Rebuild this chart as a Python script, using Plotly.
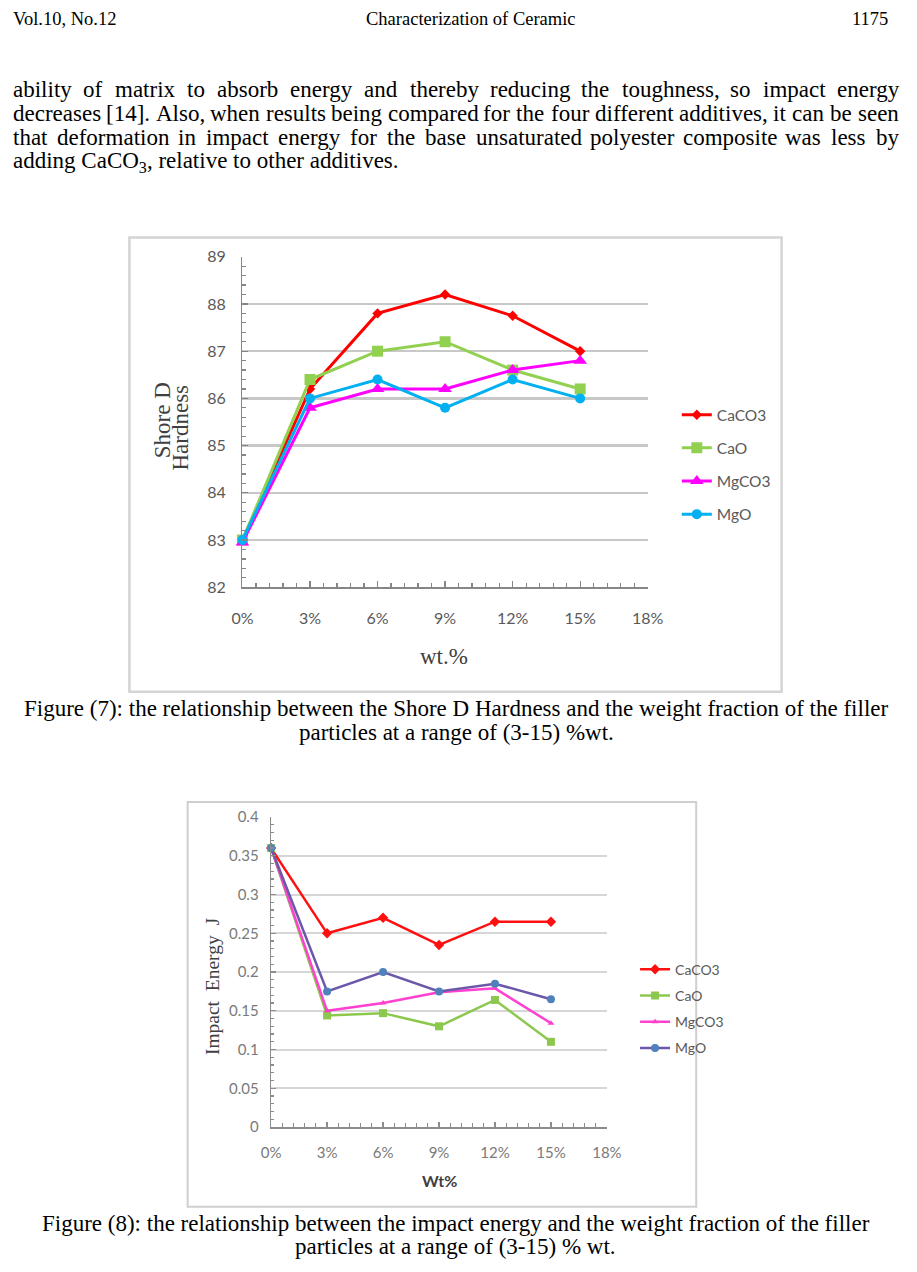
import plotly.graph_objects as go

W, H = 917, 1272

# ---------------- data ----------------
WT_PCT = [0, 3, 6, 9, 12, 15]
SERIES = ["CaCO3", "CaO", "MgCO3", "MgO"]

HARD_CACO3 = [83.0, 86.2, 87.8, 88.2, 87.75, 87.0]
HARD_CAO = [83.0, 86.4, 87.0, 87.2, 86.6, 86.2]
HARD_MGCO3 = [82.95, 85.8, 86.2, 86.2, 86.6, 86.8]
HARD_MGO = [83.0, 86.0, 86.4, 85.8, 86.4, 86.0]

IMP_CACO3 = [0.36, 0.25, 0.27, 0.235, 0.265, 0.265]
IMP_CAO = [0.36, 0.144, 0.147, 0.13, 0.164, 0.11]
IMP_MGCO3 = [0.36, 0.15, 0.16, 0.174, 0.179, 0.134]
IMP_MGO = [0.36, 0.175, 0.2, 0.175, 0.185, 0.165]

HARD_RANGE = [82, 89]
IMP_RANGE = [0, 0.4]
WT_RANGE = [0, 18]

HEADER_LEFT = "Vol.10, No.12"
HEADER_CENTER = "Characterization of Ceramic"
HEADER_RIGHT = "1175"
PARAGRAPH = [
    "ability of matrix to absorb energy and thereby reducing the toughness, so impact energy",
    "decreases [14]. Also, when results being compared for the four different additives, it can be seen",
    "that deformation in impact energy for the base unsaturated polyester composite was less by",
]
PARAGRAPH_LAST = "adding CaCO<sub>3</sub>, relative to other additives."
CAPTION7 = ["Figure (7): the relationship between the Shore D Hardness and the weight fraction of the filler",
            "particles at a range of (3-15) %wt."]
CAPTION8 = ["Figure (8): the relationship between the impact energy and the weight fraction of the filler",
            "particles at a range of (3-15) % wt."]

# ---------------- styling helpers ----------------
SERIF = "Liberation Serif, Times New Roman, serif"
SANS = "Lato, Carlito, Calibri, sans-serif"


def px(x):
    return x / W


def py(y):
    return 1 - y / H


# Times / Liberation Serif advance widths (1/1000 em)
TW = {' ': 250, '!': 333, '%': 833, '(': 333, ')': 333, ',': 250, '-': 333, '.': 250, ':': 278,
      '[': 333, ']': 333, 'A': 722, 'B': 667, 'C': 667, 'D': 722, 'E': 611, 'F': 556, 'G': 722,
      'H': 722, 'I': 333, 'J': 389, 'K': 722, 'L': 611, 'M': 889, 'N': 722, 'O': 722, 'P': 556,
      'Q': 722, 'R': 667, 'S': 556, 'T': 611, 'U': 722, 'V': 722, 'W': 944, 'X': 722, 'Y': 722,
      'Z': 611, 'a': 444, 'b': 500, 'c': 444, 'd': 500, 'e': 444, 'f': 333, 'g': 500, 'h': 500,
      'i': 278, 'j': 278, 'k': 500, 'l': 278, 'm': 778, 'n': 500, 'o': 500, 'p': 500, 'q': 500,
      'r': 333, 's': 389, 't': 278, 'u': 500, 'v': 500, 'w': 722, 'x': 500, 'y': 500, 'z': 444}


def text_w(s, size):
    return sum(TW.get(c, 500) for c in s) / 1000.0 * size


annotations = []


def add_text(x, y_base, text, size, family=SERIF, color="#000000", xanchor="left",
             angle=0, bold=False):
    yc = y_base - 0.30 * size if angle == 0 else y_base
    annotations.append(dict(
        x=px(x), y=py(yc), xref="paper", yref="paper", text=("<b>%s</b>" % text) if bold else text,
        showarrow=False, xanchor=xanchor, yanchor="middle", textangle=angle,
        borderpad=0, borderwidth=0,
        font=dict(family=family, size=size, color=color)))


def justify(line, x0, x1, y_base, size):
    words = line.split(" ")
    widths = [text_w(w, size) for w in words]
    gap = (x1 - x0 - sum(widths)) / (len(words) - 1)
    x = x0
    for w, ww in zip(words, widths):
        add_text(x, y_base, w, size)
        x += ww + gap


# ---------------- page text ----------------
BODY = 23
TEXT_L, TEXT_R = 2, 914
add_text(TEXT_L, 15, HEADER_LEFT, 18.5)
add_text(474, 15, HEADER_CENTER, 18.5, xanchor="center")
add_text(904, 15, HEADER_RIGHT, 18.5, xanchor="right")
for i, line in enumerate(PARAGRAPH):
    justify(line, TEXT_L, TEXT_R, 88 + 24.3 * i, BODY)
add_text(TEXT_L, 88 + 24.3 * 3, PARAGRAPH_LAST, BODY)

add_text(459, 716, CAPTION7[0], BODY, xanchor="center")
add_text(459, 740, CAPTION7[1], BODY, xanchor="center")
add_text(458, 1239, CAPTION8[0], BODY, xanchor="center")
add_text(458, 1262, CAPTION8[1], BODY, xanchor="center")

# axis titles
add_text(156, 416, "Shore D", 23, color="#404040", xanchor="center", angle=-90)
add_text(175, 424, "Hardness", 23, color="#404040", xanchor="center", angle=-90)
add_text(446, 663, "wt.%", 23, color="#404040", xanchor="center")
add_text(207, 991, "Impact\u00a0 Energy\u00a0 J", 19.5, color="#404040", xanchor="center", angle=-90)
add_text(442, 1193, "Wt%", 16, family=SANS, color="#404040", xanchor="center", bold=True)

# ---------------- traces ----------------
fig = go.Figure()

hard = [HARD_CACO3, HARD_CAO, HARD_MGCO3, HARD_MGO]
imp = [IMP_CACO3, IMP_CAO, IMP_MGCO3, IMP_MGO]

style1 = [
    dict(line="#ff0000", marker="#ff0000", symbol="diamond", size=8),
    dict(line="#92d050", marker="#92d050", symbol="square", size=11),
    dict(line="#ff00ff", marker="#ff00ff", symbol="triangle-up", size=12),
    dict(line="#00b0f0", marker="#00b0f0", symbol="circle", size=10),
]
style2 = [
    dict(line="#ff1010", marker="#ff1010", symbol="diamond", size=8),
    dict(line="#8cc84e", marker="#8cc84e", symbol="square", size=8),
    dict(line="#ff40d0", marker="#ff40c8", symbol="triangle-up", size=6),
    dict(line="#6c58a8", marker="#4f81bd", symbol="circle", size=8),
]

for i, name in enumerate(SERIES):
    s = style1[i]
    fig.add_trace(go.Scatter(
        x=WT_PCT, y=hard[i], name=name, mode="lines+markers", xaxis="x", yaxis="y",
        line=dict(color=s["line"], width=3),
        marker=dict(color=s["marker"], symbol=s["symbol"], size=s["size"]),
        cliponaxis=False, legend="legend", legendgroup="h%d" % i))

for i, name in enumerate(SERIES):
    s = style2[i]
    fig.add_trace(go.Scatter(
        x=WT_PCT, y=imp[i], name=name, mode="lines+markers", xaxis="x2", yaxis="y2",
        line=dict(color=s["line"], width=2.5),
        marker=dict(color=s["marker"], symbol=s["symbol"], size=s["size"]),
        cliponaxis=False, legend="legend2", legendgroup="i%d" % i))

# ---------------- layout ----------------
AX1 = "#868686"
AX2 = "#8c8c8c"

shapes = [
    dict(type="rect", xref="paper", yref="paper", x0=px(122), x1=px(794), y0=py(692), y1=py(231),
         line=dict(color="#d4d4d4", width=2.5), fillcolor="rgba(0,0,0,0)", layer="below"),
    dict(type="rect", xref="paper", yref="paper", x0=px(182), x1=px(706), y0=py(1215), y1=py(804),
         line=dict(color="#cfcfcf", width=2), fillcolor="rgba(0,0,0,0)", layer="below"),
]

fig.update_layout(
    width=W, height=H, margin=dict(l=0, r=0, t=0, b=0),
    paper_bgcolor="white", plot_bgcolor="rgba(0,0,0,0)",
    showlegend=True, hovermode=False,
    annotations=annotations, shapes=shapes,
    xaxis=dict(domain=[px(238.5), px(656)], range=WT_RANGE, dtick=3, ticksuffix="%",
               showgrid=False, zeroline=False, showline=True, linecolor=AX1, linewidth=1.5,
               ticks="inside", ticklen=6, tickcolor=AX1, tickwidth=1.2,
               minor=dict(dtick=0.6, ticks="inside", ticklen=4, tickcolor=AX1, showgrid=False),
               tickfont=dict(family=SANS, size=16, color="#595959"),
               ticklabelstandoff=16, anchor="y", fixedrange=True),
    yaxis=dict(domain=[py(586), py(250.5)], range=HARD_RANGE, dtick=1,
               showgrid=True, gridcolor="#c8c8c8", gridwidth=2.5, zeroline=False,
               showline=True, linecolor=AX1, linewidth=1.5,
               ticks="inside", ticklen=6, tickcolor=AX1, tickwidth=1.2,
               minor=dict(dtick=0.2, ticks="inside", ticklen=4, tickcolor=AX1, showgrid=False),
               tickfont=dict(family=SANS, size=16, color="#595959"),
               ticklabelstandoff=12, anchor="x", fixedrange=True),
    xaxis2=dict(domain=[px(268), px(614)], range=WT_RANGE, dtick=3, ticksuffix="%",
                showgrid=False, zeroline=False, showline=True, linecolor=AX2, linewidth=1.5,
                ticks="inside", ticklen=5, tickcolor=AX2, tickwidth=1.2,
                minor=dict(dtick=0.6, ticks="inside", ticklen=4, tickcolor=AX2, showgrid=False),
                tickfont=dict(family=SANS, size=15, color="#7a7a7a"),
                ticklabelstandoff=11, anchor="y2", fixedrange=True),
    yaxis2=dict(domain=[py(1134), py(819.3)], range=IMP_RANGE, dtick=0.05,
                showgrid=True, gridcolor="#d6d6d6", gridwidth=2, zeroline=False,
                showline=True, linecolor=AX2, linewidth=1.5,
                ticks="inside", ticklen=5, tickcolor=AX2, tickwidth=1.2,
                minor=dict(dtick=0.01, ticks="inside", ticklen=3, tickcolor=AX2, showgrid=False),
                tickfont=dict(family=SANS, size=15, color="#7a7a7a"),
                ticklabelstandoff=8, anchor="x2", fixedrange=True),
    legend=dict(x=px(686), y=py(394), xanchor="left", yanchor="top",
                bgcolor="rgba(0,0,0,0)", borderwidth=0, tracegroupgap=10,
                font=dict(family=SANS, size=15.5, color="#595959")),
    legend2=dict(x=px(643), y=py(958), xanchor="left", yanchor="top",
                 bgcolor="rgba(0,0,0,0)", borderwidth=0, tracegroupgap=5,
                 font=dict(family=SANS, size=14, color="#595959")),
)

fig.write_html("out.html", config={"displayModeBar": False, "staticPlot": True},
               post_script="document.body.style.margin='0px';document.body.style.overflow='hidden';")
